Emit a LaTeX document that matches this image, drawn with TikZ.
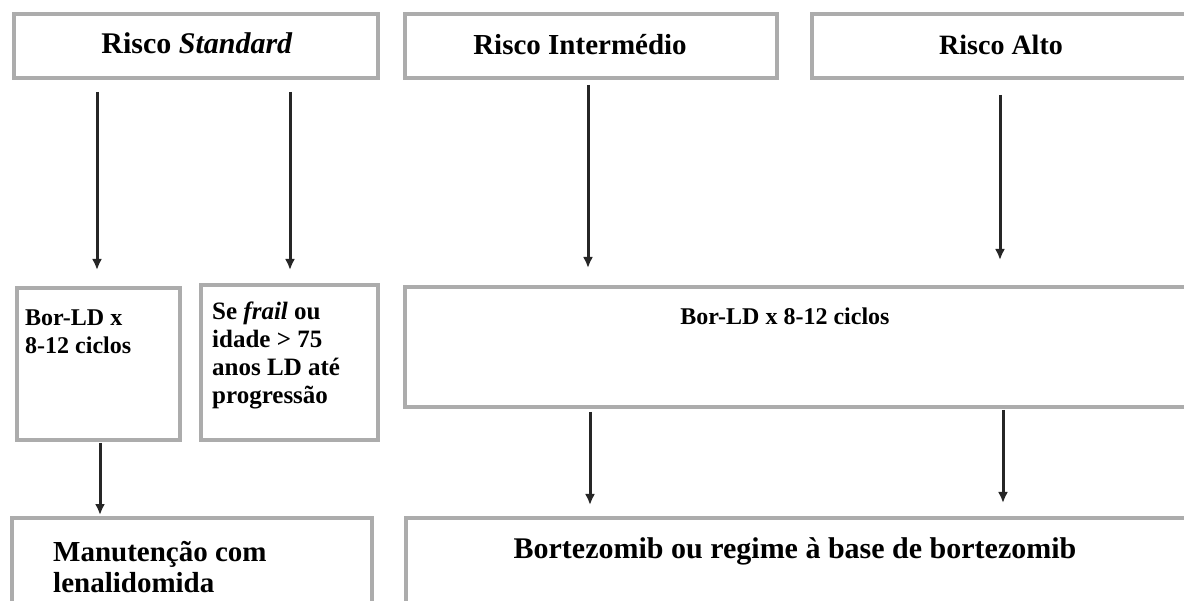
\documentclass[tikz,border=0pt]{standalone}
\usepackage{fontspec}
\setmainfont{Liberation Serif}
\usetikzlibrary{arrows.meta,calc}
\begin{document}
\begin{tikzpicture}[x=1pt,y=-1pt,
  box/.style={draw=gray!65, line width=3.5pt, fill=white, inner sep=0pt, outer sep=0pt, anchor=north west},
  lbl/.style={inner sep=0pt, align=left},
  arr/.style={draw=black!85, line width=3pt, -{Latex[length=11pt,width=10pt]}}
]
\clip (0,0) rectangle (1184,601);
\fill[white] (0,0) rectangle (1184,601);
% top row
\node[box, minimum width=364pt, minimum height=64pt] (s) at (14,14) {};
\node[box, minimum width=372pt, minimum height=64pt] (i) at (405,14) {};
\node[box, minimum width=400pt, minimum height=64pt] (a) at (812,14) {};
% middle row
\node[box, minimum width=163pt, minimum height=152pt] (b1) at (17,288) {};
\node[box, minimum width=177pt, minimum height=155pt] (b2) at (201,285) {};
\node[box, minimum width=800pt, minimum height=120pt] (b3) at (405,287) {};
% bottom row
\node[box, minimum width=360pt, minimum height=110pt] (m) at (12,518) {};
\node[box, minimum width=800pt, minimum height=110pt] (bz) at (406,518) {};
% texts
\node[lbl, anchor=base, font=\bfseries\fontsize{30}{34}\selectfont] (ts) at (197,54) {Risco \textit{Standard}};
\node[lbl, anchor=base, font=\bfseries\fontsize{29}{34}\selectfont] (ti) at (580,55) {Risco Intermédio};
\node[lbl, anchor=base, font=\bfseries\fontsize{28}{34}\selectfont] (ta) at (1001,55) {Risco Alto};
\node[lbl, anchor=north west, font=\bfseries\fontsize{24}{28}\selectfont] (tb1) at (25,310) {Bor-LD x\\8-12 ciclos};
\node[lbl, anchor=north west, font=\bfseries\fontsize{25}{28}\selectfont] (tb2) at (212,302) {Se \textit{frail} ou\\idade > 75\\anos LD até\\progressão};
\node[lbl, anchor=base, font=\bfseries\fontsize{24}{27}\selectfont] (tb3) at (785,325) {Bor-LD x 8-12 ciclos};
\node[lbl, anchor=north west, font=\bfseries\fontsize{29}{31}\selectfont] (tm) at (53,541) {Manutenção com\\lenalidomida};
\node[lbl, anchor=base, font=\bfseries\fontsize{30}{34}\selectfont] (tbz) at (795,558) {Bortezomib ou regime à base de bortezomib};
% arrows
\draw[arr] ($(s.south west)+(83,14)$) -- ($(b1.north west)+(80,-18)$);
\draw[arr] ($(s.south west)+(276,14)$) -- ($(b2.north west)+(89,-15)$);
\draw[arr] ($(i.south west)+(183,7)$) -- ($(b3.north west)+(183,-19)$);
\draw[arr] ($(a.south west)+(188,17)$) -- ($(b3.north west)+(595,-27)$);
\draw[arr] ($(b1.south west)+(83,3)$) -- ($(m.north west)+(88,-3)$);
\draw[arr] ($(b3.south west)+(185,5)$) -- ($(bz.north west)+(184,-13)$);
\draw[arr] ($(b3.south west)+(598,3)$) -- ($(bz.north west)+(597,-15)$);
\end{tikzpicture}
\end{document}
